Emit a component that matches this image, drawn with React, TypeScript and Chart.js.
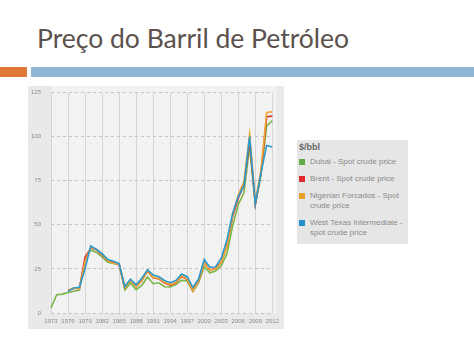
import React, { useEffect, useRef } from "react";
import { Chart, registerables } from "chart.js";

Chart.register(...registerables);

const years = [
  1973, 1974, 1975, 1976, 1977, 1978, 1979, 1980, 1981, 1982,
  1983, 1984, 1985, 1986, 1987, 1988, 1989, 1990, 1991, 1992,
  1993, 1994, 1995, 1996, 1997, 1998, 1999, 2000, 2001, 2002,
  2003, 2004, 2005, 2006, 2007, 2008, 2009, 2010, 2011, 2012,
];

const dubai = [
  2.83, 10.41, 10.7, 11.63, 12.38, 13.03, 29.75, 35.69, 34.32, 31.8,
  28.78, 28.06, 27.53, 13.1, 16.95, 13.27, 15.62, 20.45, 16.63, 17.17,
  14.93, 14.74, 16.1, 18.52, 18.23, 12.21, 17.25, 26.2, 22.81, 23.74,
  26.78, 33.64, 49.35, 61.5, 68.19, 94.34, 61.39, 78.06, 106.18, 109.08,
];

const brent = [
  null, null, null, 12.8, 13.92, 14.02, 31.61, 36.83, 35.93, 32.97,
  29.55, 28.78, 27.56, 14.43, 18.44, 14.92, 18.23, 23.73, 20.0, 19.32,
  16.97, 15.82, 17.02, 20.67, 19.09, 12.72, 17.97, 28.5, 24.44, 25.02,
  28.83, 38.27, 54.52, 65.14, 72.39, 97.26, 61.67, 79.5, 111.26, 111.67,
];

const nigerian = [
  null, null, null, 12.87, 14.21, 13.65, 29.25, 36.98, 36.18, 33.29,
  29.54, 28.14, 27.75, 14.46, 18.39, 15.0, 18.3, 23.85, 20.11, 19.61,
  17.41, 16.25, 17.26, 21.16, 19.33, 12.62, 18.0, 28.42, 24.23, 25.04,
  28.66, 38.13, 55.69, 67.07, 74.48, 101.43, 63.35, 81.05, 113.65, 114.21,
];

const wti = [
  null, null, null, 12.23, 14.22, 14.55, 25.08, 37.96, 36.08, 33.65,
  30.3, 29.39, 27.99, 15.04, 19.2, 15.97, 19.64, 24.53, 21.54, 20.58,
  18.43, 17.2, 18.43, 22.16, 20.61, 14.45, 19.25, 30.3, 25.95, 26.11,
  31.12, 41.44, 56.49, 66.02, 72.2, 100.06, 61.92, 79.45, 95.04, 94.13,
];

const seriesNames = [
  "Dubai - Spot crude price",
  "Brent - Spot crude price",
  "Nigerian Forcados - Spot crude price",
  "West Texas Intermediate - spot crude price",
];
const lineColors = ["#7ab648", "#d9362e", "#f0a534", "#2a98cc"];
const legendColors = ["#5fae45", "#dc2a2a", "#e2a22a", "#2190c8"];
const yTicks = [0, 25, 50, 75, 100, 125];

const PANEL_OFFSET = 7;

const bgPlugin = {
  id: "bgPlugin",
  beforeDraw(chart: any) {
    const { ctx, chartArea } = chart;
    ctx.save();
    ctx.clearRect(0, 0, chart.width, chart.height);
    ctx.fillStyle = "#e9e9e9";
    ctx.fillRect(0, PANEL_OFFSET, chart.width, chart.height - PANEL_OFFSET);
    ctx.fillStyle = "#f2f2f2";
    ctx.fillRect(chartArea.left, PANEL_OFFSET, chartArea.right - chartArea.left + 4, chartArea.bottom - PANEL_OFFSET);
    ctx.restore();
  },
};

function OilChart() {
  const ref = useRef<HTMLCanvasElement>(null);
  useEffect(() => {
    const c = new Chart(ref.current!, {
      type: "line",
      data: {
        labels: years.map(String),
        datasets: [dubai, brent, nigerian, wti].map((d, i) => ({
          label: seriesNames[i],
          data: d,
          borderColor: lineColors[i],
          backgroundColor: lineColors[i],
          borderWidth: 1.6,
          pointRadius: 0,
          tension: 0,
          spanGaps: false,
          order: 3 - i,
        })),
      },
      options: {
        animation: false,
        responsive: false,
        maintainAspectRatio: false,
        layout: { padding: { top: 0, right: 9, left: 0, bottom: 0 } },
        plugins: { legend: { display: false }, tooltip: { enabled: false } },
        scales: {
          x: {
            offset: false,
            border: { display: false },
            grid: {
              color: (ctx: any) => (ctx.index % 3 === 0 ? "#d6d6d6" : "rgba(0,0,0,0)"),
              lineWidth: 1,
              drawTicks: false,
            },
            ticks: {
              autoSkip: false,
              maxRotation: 0,
              padding: 5,
              color: "#8a8a8a",
              font: { size: 6, family: "Liberation Sans" },
              callback: (v: any, i: number) => (i % 3 === 0 ? years[i] : ""),
            },
            afterFit: (s: any) => {
              s.height = 16;
            },
          },
          y: {
            min: 0,
            max: 125,
            border: { display: false, dash: [3, 3] },
            afterBuildTicks: (s: any) => {
              s.ticks = yTicks.map((v) => ({ value: v }));
            },
            grid: {
              color: "#c4c4c4",
              lineWidth: 1,
              drawTicks: false,
            },
            ticks: {
              padding: 10,
              color: "#8a8a8a",
              font: { size: 6, family: "Liberation Sans" },
            },
            afterFit: (s: any) => {
              s.width = 23;
            },
          },
        },
      },
      plugins: [bgPlugin],
    } as any);
    return () => c.destroy();
  }, []);
  return (
    <canvas
      ref={ref}
      width={256}
      height={250}
      style={{ position: "absolute", left: 28, top: 79, width: 256, height: 250 }}
    />
  );
}

export default function App() {
  useEffect(() => {
    document.body.style.margin = "0";
  }, []);
  const legendItems = seriesNames.map((n, i) => (
    <div key={n} style={{ display: "flex", alignItems: "flex-start", marginTop: i === 0 ? 4 : 7 }}>
      <div
        style={{
          width: 6,
          height: 6,
          background: legendColors[i],
          marginTop: 2,
          marginRight: 5,
          flex: "0 0 auto",
        }}
      />
      <div style={{ lineHeight: "10px" }}>{n}</div>
    </div>
  ));
  return (
    <div style={{ position: "absolute", left: 0, top: 0, width: 474, height: 355, background: "#fff", overflow: "hidden" }}>
      <div
        style={{
          position: "absolute",
          left: 37,
          top: 22,
          fontFamily: "Lato, 'Open Sans', sans-serif",
          fontSize: 26.5,
          color: "#5b514d",
          whiteSpace: "nowrap",
        }}
      >
        Preço do Barril de Petróleo
      </div>
      <div style={{ position: "absolute", left: 0, top: 67, width: 27, height: 10, background: "#e07a3a" }} />
      <div style={{ position: "absolute", left: 31, top: 67, width: 443, height: 10, background: "#90b5d5" }} />
      <OilChart />
      <div
        style={{
          position: "absolute",
          left: 297,
          top: 140,
          width: 111,
          height: 104,
          boxSizing: "border-box",
          padding: "2px 2px",
          background: "#e6e6e6",
          fontFamily: "'Liberation Sans', Arial, sans-serif",
          fontSize: 8,
          color: "#8a8a8a",
        }}
      >
        <div style={{ fontWeight: "bold", fontSize: 9, color: "#666", lineHeight: "11px" }}>$/bbl</div>
        {legendItems}
      </div>
    </div>
  );
}
